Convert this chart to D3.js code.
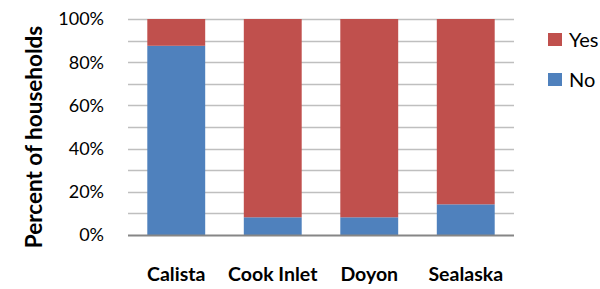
<!DOCTYPE html>
<html>
<head>
<meta charset="utf-8">
<script src="https://cdn.jsdelivr.net/npm/d3@7"></script>
<style>
  body { margin: 0; background: #fff; }
  text { font-family: Lato, "Open Sans", sans-serif; fill: #000; }
</style>
</head>
<body>
<div id="chart"></div>
<script>
// Data
const regions = ["Calista", "Cook Inlet", "Doyon", "Sealaska"];
const noValues = [0.876, 0.082, 0.082, 0.142];
const yesValues = [0.124, 0.918, 0.918, 0.858];
const yTicks = [0, 0.2, 0.4, 0.6, 0.8, 1.0];
const gridTicks = [0.1, 0.2, 0.3, 0.4, 0.5, 0.6, 0.7, 0.8, 0.9, 1.0];

const width = 600, height = 289;
const margin = { top: 19, right: 86, bottom: 54, left: 128 };

const svg = d3.select("#chart").append("svg")
  .attr("width", width)
  .attr("height", height);

const x = d3.scaleBand()
  .domain(regions)
  .range([margin.left, width - margin.right])
  .paddingInner(0.4)
  .paddingOuter(0.2);

const y = d3.scaleLinear()
  .domain([0, 1])
  .range([height - margin.bottom, margin.top]);

// Gridlines
svg.append("g")
  .selectAll("line")
  .data(gridTicks)
  .join("line")
  .attr("x1", margin.left)
  .attr("x2", width - margin.right)
  .attr("y1", d => Math.round(y(d)) + 0.5)
  .attr("y2", d => Math.round(y(d)) + 0.5)
  .attr("stroke", "#bfbfbf")
  .attr("stroke-width", 1.5);

// Stacked bars
const stackData = regions.map((r, i) => ({ region: r, No: noValues[i], Yes: yesValues[i] }));
const series = d3.stack().keys(["No", "Yes"])(stackData);
const color = { No: "#4f81bd", Yes: "#c0504d" };

series.forEach(s => {
  svg.append("g")
    .selectAll("rect")
    .data(s)
    .join("rect")
    .attr("x", d => x(d.data.region))
    .attr("width", x.bandwidth())
    .attr("y", d => y(d[1]))
    .attr("height", d => y(d[0]) - y(d[1]))
    .attr("fill", color[s.key]);
});

// Baseline axis
svg.append("line")
  .attr("x1", margin.left)
  .attr("x2", width - margin.right)
  .attr("y1", y(0) + 0.5)
  .attr("y2", y(0) + 0.5)
  .attr("stroke", "#868686")
  .attr("stroke-width", 2);

// Y tick labels
svg.append("g")
  .selectAll("text")
  .data(yTicks)
  .join("text")
  .attr("x", 104)
  .attr("y", d => y(d))
  .attr("dy", "0.35em")
  .attr("text-anchor", "end")
  .style("font-size", "18px")
  .text(d => d3.format(".0%")(d));

// X labels
svg.append("g")
  .selectAll("text")
  .data(regions)
  .join("text")
  .attr("x", d => x(d) + x.bandwidth() / 2)
  .attr("y", 281)
  .attr("text-anchor", "middle")
  .style("font-size", "19.5px")
  .style("font-weight", "bold")
  .text(d => d);

// Y axis title
svg.append("text")
  .attr("transform", "rotate(-90)")
  .attr("x", -137)
  .attr("y", 42)
  .attr("text-anchor", "middle")
  .style("font-size", "22.5px")
  .style("font-weight", "bold")
  .text("Percent of households");

// Legend
const legendKeys = ["Yes", "No"];
const legend = svg.append("g").attr("transform", "translate(548, 33)");
legendKeys.forEach((k, i) => {
  const row = legend.append("g").attr("transform", `translate(0, ${i * 40})`);
  row.append("rect")
    .attr("width", 14)
    .attr("height", 13)
    .attr("fill", color[k]);
  row.append("text")
    .attr("x", 21)
    .attr("y", 7)
    .attr("dy", "0.35em")
    .style("font-size", "20px")
    .text(k);
});
</script>
</body>
</html>
